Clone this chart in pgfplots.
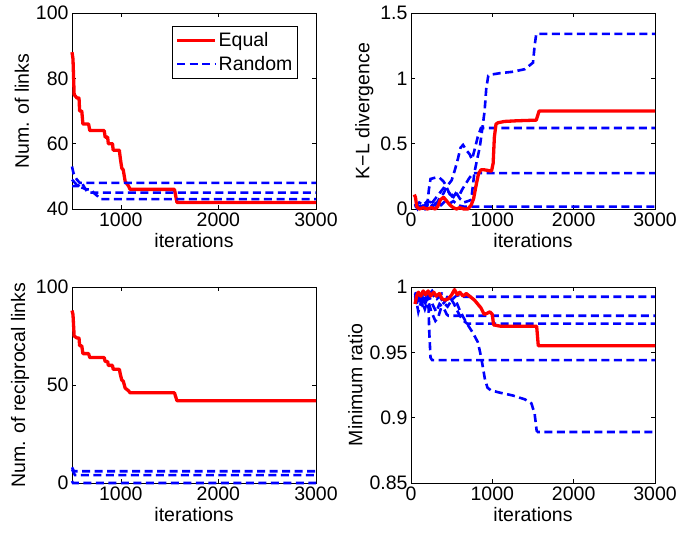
\documentclass[border=0pt]{standalone}
\usepackage{fontspec}
\setmainfont{Liberation Sans}
\usepackage{pgfplots}
\usepackage{pgfplotstable}
\pgfplotsset{compat=1.18}

% Equal: the same staircase shows up in both left panels
\pgfplotstableread{
x y
500 88
510 86
522 75
550 74
572 74
578 70
600 70
612 66
670 66
682 64
830 64
840 62
865 62
872 60
915 60
922 58
985 58
995 55.5
1010 52.5
1025 52
1045 48.4
1080 47
1095 46
1550 46
1575 42
3000 42
}\equallinks

\pgfplotsset{
  mat/.style={
    scale only axis, width=244pt, height=196pt,
    font=\fontsize{19.5}{23}\selectfont,
    /pgf/number format/assume math mode=true,
    /pgf/number format/1000 sep={},
    scaled ticks=false,
    axis line style={line width=0.8pt},
    tick style={black, line width=0.6pt},
    major tick length=4pt, tick align=inside,
    xmax=3000, xlabel={iterations},
    clip=false,
  },
  eq/.style={red, line width=3.3pt, line join=round},
  rnd/.style={blue, line width=2.6pt, dash pattern=on 8pt off 4.5pt},
}

\begin{document}
\begin{tikzpicture}
\path[use as bounding box] (0pt,0pt) rectangle (679pt,534pt);

% top left
\begin{axis}[mat, at={(72pt,325pt)}, anchor=south west,
  xmin=500, ymin=40, ymax=100,
  xtick={1000,2000,3000}, ytick={40,60,80,100},
  ylabel={Num. of links},
  legend style={at={(0.925,0.932)}, anchor=north east, draw=black,
    line width=0.6pt, font=\fontsize{19.5}{23}\selectfont,
    inner xsep=3pt, inner ysep=4pt, row sep=4pt},
  legend cell align=left,
  legend image code/.code={\draw[#1] (0pt,0pt) -- (38pt,0pt);},
]
\addplot[eq] table {\equallinks};
\addplot[rnd] coordinates {(500,53)(515,51)(530,50)(550,49)(580,48)(3000,48)};
\addplot[rnd, forget plot] coordinates {(500,47)(560,47)(600,48)(620,47)(640,46)(660,45)(3000,45)};
\addplot[rnd, forget plot] coordinates {(500,49)(560,47)(650,46)(700,46)(720,45)(760,44)(790,43)(3000,43)};
\legend{Equal, Random}
\end{axis}

% top right
\begin{axis}[mat, at={(411pt,325pt)}, anchor=south west,
  xmin=0, ymin=0, ymax=1.5,
  xtick={0,1000,2000,3000}, ytick={0,0.5,1,1.5},
  ylabel={K−L divergence},
]
\addplot[rnd] coordinates {(50,0.03)(80,0.0)(120,0.04)(160,0.02)(200,0.05)(250,0.04)(300,0.08)(350,0.12)(400,0.16)(450,0.14)(500,0.10)(550,0.13)(600,0.08)(650,0.05)(700,0.06)(740,0.07)(780,0.28)(820,0.40)(845,0.47)(880,0.63)(905,0.75)(925,0.92)(950,1.02)(1000,1.03)(1100,1.04)(1250,1.05)(1400,1.07)(1460,1.10)(1500,1.12)(1520,1.25)(1540,1.34)(3000,1.34)};
\addplot[rnd] coordinates {(50,0.02)(100,0.05)(150,0.03)(200,0.06)(250,0.05)(300,0.03)(350,0.08)(400,0.12)(450,0.18)(500,0.22)(540,0.30)(575,0.38)(610,0.47)(640,0.49)(680,0.45)(720,0.42)(750,0.38)(780,0.45)(820,0.55)(860,0.62)(3000,0.62)};
\addplot[rnd] coordinates {(50,0.02)(100,0.01)(150,0.04)(200,0.03)(220,0.15)(240,0.23)(300,0.24)(350,0.24)(400,0.21)(430,0.18)(470,0.12)(510,0.08)(550,0.12)(590,0.10)(630,0.15)(680,0.20)(720,0.24)(760,0.27)(790,0.275)(3000,0.275)};
\addplot[rnd] coordinates {(50,0.04)(80,0.01)(120,0.03)(170,0.0)(220,0.05)(270,0.02)(320,0.06)(370,0.03)(420,0.06)(470,0.04)(520,0.06)(560,0.04)(600,0.025)(650,0.018)(3000,0.018)};
\addplot[eq] coordinates {(40,0.11)(55,0.09)(70,0.02)(100,0.0)(150,0.01)(200,0.0)(250,0.01)(300,0.0)(330,0.02)(360,0.07)(400,0.09)(440,0.06)(480,0.03)(520,0.01)(560,0.0)(600,0.01)(650,0.0)(700,0.0)(740,0.03)(770,0.08)(800,0.18)(830,0.27)(860,0.30)(900,0.30)(990,0.29)(1010,0.35)(1025,0.55)(1045,0.65)(1070,0.66)(1150,0.67)(1300,0.675)(1540,0.68)(1560,0.72)(1575,0.75)(3000,0.75)};
\end{axis}

% bottom left
\begin{axis}[mat, at={(72pt,51pt)}, anchor=south west,
  xmin=500, ymin=0, ymax=100,
  xtick={1000,2000,3000}, ytick={0,50,100},
  ylabel={Num. of reciprocal links},
]
\addplot[eq] table {\equallinks};
\addplot[rnd] coordinates {(500,8)(510,7)(520,6)(3000,6)};
\addplot[rnd] coordinates {(500,7)(520,5)(530,4)(3000,4)};
\addplot[rnd] coordinates {(500,1)(510,0)(3000,0)};
\end{axis}

% bottom right
\begin{axis}[mat, at={(411pt,51pt)}, anchor=south west,
  xmin=0, ymin=0.85, ymax=1,
  xtick={0,1000,2000,3000}, ytick={0.85,0.9,0.95,1},
  ylabel={Minimum ratio},
]
\addplot[rnd] coordinates {(50,0.993)(80,0.986)(120,0.995)(160,0.990)(200,0.994)(250,0.996)(300,0.991)(350,0.993)(400,0.988)(450,0.985)(500,0.990)(550,0.993)(600,0.994)(650,0.9925)(3000,0.9925)};
\addplot[rnd] coordinates {(50,0.995)(90,0.981)(130,0.990)(170,0.983)(220,0.993)(270,0.986)(310,0.981)(350,0.987)(400,0.984)(440,0.979)(460,0.978)(3000,0.978)};
\addplot[rnd] coordinates {(50,0.990)(100,0.996)(150,0.986)(200,0.992)(250,0.981)(300,0.974)(330,0.976)(380,0.986)(430,0.990)(480,0.992)(520,0.988)(560,0.983)(600,0.978)(650,0.974)(690,0.972)(3000,0.972)};
\addplot[rnd] coordinates {(50,0.989)(100,0.994)(150,0.984)(200,0.991)(215,0.985)(225,0.965)(240,0.946)(260,0.944)(3000,0.944)};
\addplot[rnd] coordinates {(50,0.996)(100,0.990)(150,0.995)(200,0.993)(260,0.997)(320,0.991)(380,0.995)(450,0.992)(520,0.990)(555,0.989)(600,0.982)(677,0.973)(760,0.965)(820,0.958)(850,0.950)(880,0.940)(910,0.929)(940,0.923)(980,0.921)(1100,0.919)(1250,0.917)(1400,0.914)(1480,0.911)(1520,0.903)(1545,0.890)(1560,0.889)(3000,0.889)};
\addplot[eq] coordinates {(50,0.987)(70,0.993)(90,0.996)(120,0.993)(150,0.997)(180,0.994)(210,0.997)(240,0.993)(280,0.996)(310,0.993)(350,0.995)(380,0.991)(420,0.990)(460,0.991)(500,0.994)(535,0.998)(570,0.994)(600,0.996)(640,0.993)(680,0.995)(720,0.993)(780,0.990)(820,0.987)(860,0.984)(900,0.979)(940,0.980)(970,0.981)(1000,0.979)(1015,0.971)(1100,0.970)(1200,0.970)(1545,0.970)(1565,0.955)(3000,0.955)};
\end{axis}
\end{tikzpicture}
\end{document}
